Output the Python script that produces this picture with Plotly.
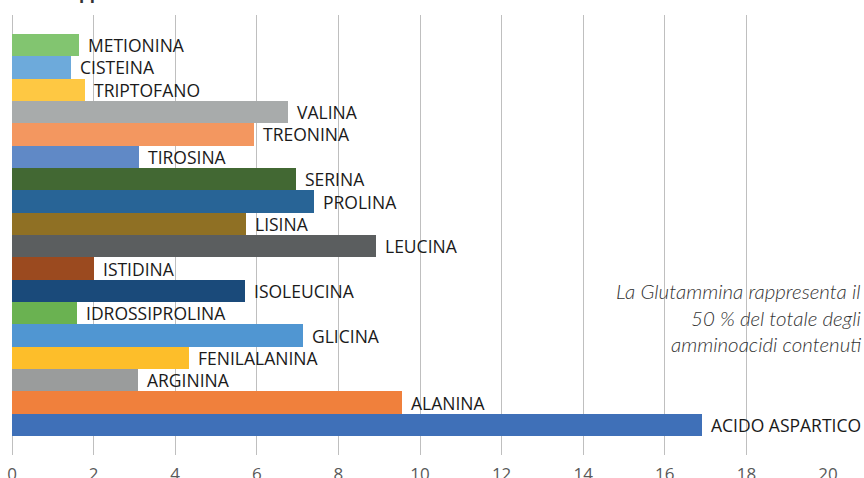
import plotly.graph_objects as go

# Data (top to bottom)
aminoacidi = ["METIONINA", "CISTEINA", "TRIPTOFANO", "VALINA", "TREONINA", "TIROSINA",
              "SERINA", "PROLINA", "LISINA", "LEUCINA", "ISTIDINA", "ISOLEUCINA",
              "IDROSSIPROLINA", "GLICINA", "FENILALANINA", "ARGININA", "ALANINA",
              "ACIDO ASPARTICO"]
percentuali = [1.65, 1.45, 1.80, 6.77, 5.92, 3.12, 6.97, 7.41, 5.74, 8.93, 2.00, 5.70,
               1.60, 7.14, 4.35, 3.10, 9.56, 16.92]
colori = ["#82C570", "#6DAADB", "#FEC843", "#A8ABAB", "#F39760", "#6089C6",
          "#426833", "#286496", "#8F7024", "#5B5E5F", "#9B4A1F", "#1A4A7A",
          "#6AB251", "#5096D2", "#FDBE2A", "#9A9C9C", "#F0803C", "#3F70B8"]
x_ticks = [0, 2, 4, 6, 8, 10, 12, 14, 16, 18, 20]
nota = ["La Glutammina rappresenta il", "50 % del totale degli", "amminoacidi contenuti"]
titolo = "Sono rappresentati in % del totale"

pos = list(range(len(aminoacidi)))

fig = go.Figure()
fig.add_trace(go.Bar(
    x=percentuali, y=pos, orientation="h", width=1,
    marker=dict(color=colori, line=dict(width=0)),
    hoverinfo="skip", showlegend=False,
))

annotations = []
for name, v, p in zip(aminoacidi, percentuali, pos):
    annotations.append(dict(
        x=v, y=p, xref="x", yref="y", text=name, showarrow=False,
        xanchor="left", yanchor="middle", xshift=7,
        font=dict(family="Open Sans", size=17.5, color="#1A1A1A"),
    ))

# note lines (right aligned)
plot_top, plot_bot = 15, 455
centers_px = [290.5, 317.5, 344.5]
for line, cy in zip(nota, centers_px):
    annotations.append(dict(
        x=(863 - 12.3) / 816, y=(plot_bot - cy) / (plot_bot - plot_top),
        xref="paper", yref="paper", text=line, showarrow=False,
        xanchor="right", yanchor="middle",
        font=dict(family="Lato", size=20.5, color="#333333", style="italic", weight=300),
    ))

# mostly cropped title at top
annotations.append(dict(
    x=0.001, y=1, xref="paper", yref="paper", text=titolo, showarrow=False,
    xanchor="left", yanchor="bottom", yshift=9,
    font=dict(family="Open Sans", size=17, color="#333333", weight=700),
))

fig.update_layout(
    width=864, height=478,
    margin=dict(l=12, r=36, t=15, b=23, autoexpand=False),
    paper_bgcolor="white", plot_bgcolor="white",
    annotations=annotations,
    bargap=0,
)
fig.update_xaxes(
    range=[0, 20], tickvals=x_ticks, ticktext=[str(t) for t in x_ticks],
    showgrid=True, gridcolor="#BFBFBF", gridwidth=1.2,
    zeroline=True, zerolinecolor="#BFBFBF", zerolinewidth=1.2,
    showline=False, ticks="", ticklabelstandoff=7,
    tickfont=dict(family="Open Sans", size=17, color="#595959"),
    automargin=False, fixedrange=True,
)
fig.update_yaxes(
    range=[17.5 + 0.85, -0.5 - 0.85], showticklabels=False, showgrid=False,
    zeroline=False, showline=False, ticks="", automargin=False,
)

fig.write_html(
    "out.html",
    config={"displayModeBar": False},
    post_script="document.body.style.margin='0';document.body.style.overflow='hidden';",
)
